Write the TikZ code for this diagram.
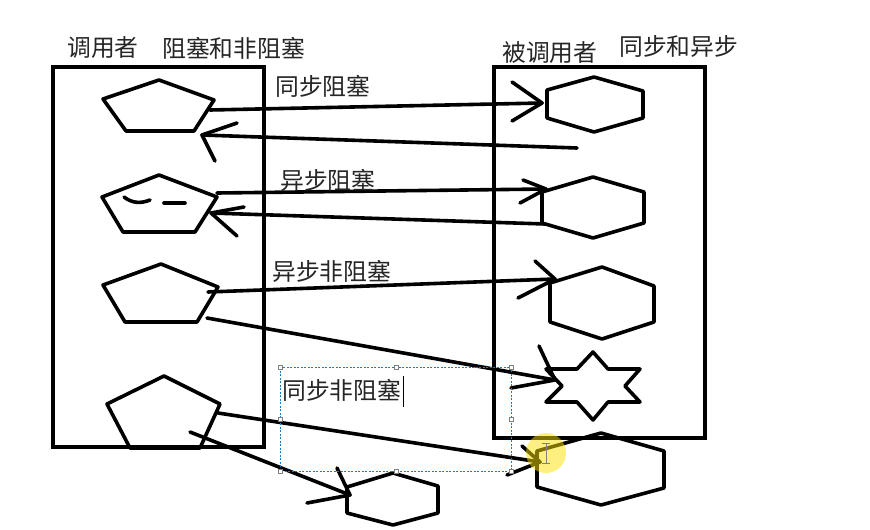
\documentclass[tikz,border=0pt]{standalone}
\usepackage{fontspec}
\newfontfamily\cjk{Noto Sans CJK SC}
\begin{document}
\begin{tikzpicture}[x=1pt,y=-1pt,
  ink/.style={line width=3.6pt,line join=round,line cap=round},
  frame/.style={line width=3.8pt,line join=miter},
  lbl/.style={font=\cjk\fontsize{23.8}{24}\selectfont,inner sep=0pt,anchor=west,text=black!85},
  sel/.style={draw=cyan!60!blue,dashed,dash pattern=on 2pt off 1.5pt,line width=0.7pt},
  handle/.style={draw=gray,fill=white,line width=0.5pt,minimum size=4pt,inner sep=0pt,rectangle}]
\useasboundingbox (0,0) rectangle (870,530);
\fill[white] (0,0) rectangle (870,530);

% titles
\node[lbl] (caller) at (67,48) {调用者};
\node[lbl] (block) at (162,48) {阻塞和非阻塞};
\node[lbl] (callee) at (502,53) {被调用者};
\node[lbl] (sync) at (619,46) {同步和异步};

% frames
\draw[frame] (53,67) rectangle (264,447);
\draw[frame] (494,67) rectangle (705,438);

% pentagons
\draw[ink] (103,99) -- (159,80) -- (214,100) -- (194,131) -- (126,131) -- cycle;
\draw[ink] (102,197) -- (159,175) -- (217,197) -- (195,232) -- (123,232) -- cycle;
\draw[ink] (124,197) .. controls (132,203) and (140,204) .. (150,200);
\draw[ink] (164,203) -- (185,203);
\draw[ink] (103,285) -- (161,264) -- (218,287) -- (197,322) -- (125,322) -- cycle;
\draw[ink] (107,404) -- (164,376) -- (220,404) -- (200,448) -- (130,448) -- cycle;

% hexagons
\draw[ink] (547,90) -- (594,77) -- (643,91) -- (643,118) -- (594,132) -- (547,118) -- cycle;
\draw[ink] (542,192) -- (593,177) -- (644,192) -- (644,223) -- (593,238) -- (542,223) -- cycle;
\draw[ink] (550,283) -- (602,267) -- (654,286) -- (654,322) -- (602,339) -- (550,322) -- cycle;
\draw[ink] (537,451) -- (601,433) -- (664,451) -- (664,488) -- (601,505) -- (537,487) -- cycle;
\draw[ink] (347,487) -- (393,473) -- (438,486) -- (438,513) -- (393,525) -- (347,513) -- cycle;

% star
\draw[ink] (593,352) -- (608,369) -- (640,369) -- (625,386) -- (640,402) -- (608,402)
  -- (593,420) -- (577,402) -- (546,402) -- (562,386) -- (546,369) -- (577,369) -- cycle;

% arrow end points
\coordinate (a1s) at (210,110); \coordinate (a1t) at (542,103);
\coordinate (a1l) at (512,82);  \coordinate (a1r) at (512,121);
\coordinate (a2s) at (577,148); \coordinate (a2t) at (202,135);
\coordinate (a2l) at (237,123); \coordinate (a2r) at (215,161);
\coordinate (a3s) at (217,193); \coordinate (a3t) at (546,189);
\coordinate (a3l) at (523,180); \coordinate (a3r) at (520,203);
\coordinate (a4s) at (545,224); \coordinate (a4t) at (211,213);
\coordinate (a4l) at (244,207); \coordinate (a4r) at (237,236);
\coordinate (a5s) at (208,292); \coordinate (a5t) at (555,279);
\coordinate (a5l) at (535,261); \coordinate (a5r) at (518,298);
\coordinate (a6s) at (207,318); \coordinate (a6t) at (555,380);
\coordinate (a6l) at (539,346); \coordinate (a6r) at (511,388);
\coordinate (a7s) at (218,413); \coordinate (a7t) at (540,462);
\coordinate (a7l) at (522,446); \coordinate (a7r) at (507,475);
\coordinate (a8s) at (190,432); \coordinate (a8t) at (350,495);
\coordinate (a8l) at (337,468); \coordinate (a8r) at (307,503);

\foreach \a in {a1,a2,a3,a4,a5,a6,a7,a8}{
  \draw[ink] (\a s) -- (\a t);
  \draw[ink] (\a l) -- (\a t) -- (\a r);
}

% arrow labels
\node[lbl] (l1) at (275,86) {同步阻塞};
\node[lbl] (l2) at (280,180) {异步阻塞};
\node[lbl] (l3) at (272,271) {异步非阻塞};

% selected text box
\draw[sel] (280,367) rectangle (511,471);
\foreach \p in {(280,367),(396,367),(511,367),(280,419),(511,419),(280,471),(396,471),(511,471)}
  \node[handle] at \p {};
\node[lbl] (l4) at (282,390) {同步非阻塞};
\draw[line width=0.8pt] (403,376) -- (403,407);

% highlight of the pointer
\fill[yellow!85!orange,opacity=0.5] (546,453) circle (20);
\draw[gray,line width=0.9pt] (546,443) -- (546,463);
\draw[gray,line width=0.9pt] (542,443) -- (550,443) (542,463) -- (550,463);
\end{tikzpicture}
\end{document}
